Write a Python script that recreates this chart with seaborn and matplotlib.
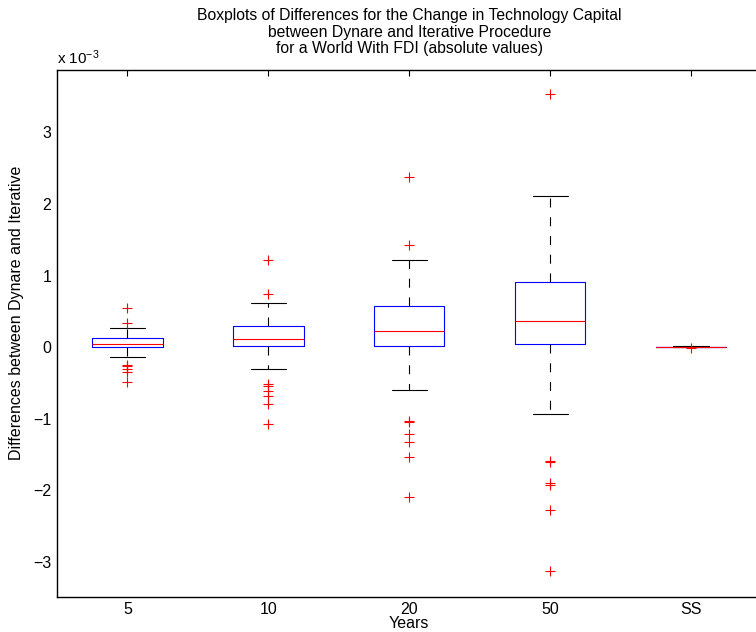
import numpy as np
import matplotlib
matplotlib.use("Agg")
import matplotlib.pyplot as plt
import seaborn as sns

# values, in units of 1e-3
groups = ["5", "10", "20", "50", "SS"]
q1 = [0.00, 0.01, 0.02, 0.04, 0.00]
med = [0.046, 0.11, 0.22, 0.36, 0.00]
q3 = [0.13, 0.29, 0.58, 0.91, 0.00]
whislo = [-0.14, -0.31, -0.60, -0.94, -0.005]
whishi = [0.27, 0.62, 1.21, 2.11, 0.01]
fliers = [
    [0.54, 0.33, -0.25, -0.27, -0.30, -0.35, -0.49],
    [1.21, 0.74, -0.52, -0.55, -0.62, -0.68, -0.80, -1.08],
    [2.37, 1.42, -1.03, -1.05, -1.21, -1.32, -1.54, -2.09],
    [3.54, -1.59, -1.61, -1.90, -1.92, -2.28, -3.13],
    [-0.015],
]

sns.set_style("white")
plt.rcParams["font.family"] = ["Liberation Sans", "DejaVu Sans"]
plt.rcParams["mathtext.default"] = "regular"
plt.rcParams["lines.scale_dashes"] = False
for k in ["text.color", "axes.labelcolor", "xtick.color", "ytick.color"]:
    plt.rcParams[k] = "black"

stats = []
for i, g in enumerate(groups):
    stats.append(dict(label=g, q1=q1[i], med=med[i], q3=q3[i],
                      whislo=whislo[i], whishi=whishi[i], fliers=fliers[i]))

fig = plt.figure(figsize=(7.56, 6.32), dpi=100)
ax = fig.add_axes([57 / 756, 35 / 632, 704.5 / 756, 527 / 632])
parts = ax.bxp(stats, positions=range(1, 6), widths=0.5, showfliers=True,
               boxprops=dict(color="blue", linewidth=0.8),
               medianprops=dict(color="red", linewidth=0.8),
               whiskerprops=dict(color="black", linewidth=0.8, linestyle=(0, (6.5, 7))),
               capprops=dict(color="black", linewidth=0.8),
               flierprops=dict(marker="+", markeredgecolor="red", markersize=7,
                               markeredgewidth=0.8, linestyle="none"))
for m in parts["medians"]:
    m.set_color("red")
    m.set_zorder(3)
for f in parts["fliers"]:
    f.set_markeredgecolor("red")
    f.set_zorder(4)

ax.set_xlim(0.5, 5.5)
ax.set_ylim(-3.49, 3.87)
ax.set_yticks([-3, -2, -1, 0, 1, 2, 3])
ax.set_yticklabels(["\u22123", "\u22122", "\u22121", "0", "1", "2", "3"])
ax.set_xticks(range(1, 6))
ax.set_xticklabels(groups)
ax.tick_params(direction="in", top=True, right=True, length=4, width=0.8,
               labelsize=11.5, pad=4)
ax.tick_params(axis="x", pad=3.5)
for s in ax.spines.values():
    s.set_linewidth(1.0)
    s.set_color("black")

ax.set_xlabel("Years", fontsize=11.5, labelpad=-0.5)
ax.set_ylabel("Differences between Dynare and Iterative", fontsize=11.5)
ax.yaxis.set_label_coords(-33 / 704.5, (597 - 313) / 527)
ax.set_title("Boxplots of Differences for the Change in Technology Capital\n"
             "between Dynare and Iterative Procedure\n"
             "for a World With FDI (absolute values)", fontsize=11.3,
             linespacing=1.12, pad=12)
fig.text(57 / 756, 1 - 58 / 632, "x 10$^{\u22123}$", fontsize=11, va="center")

fig.savefig("out.png", dpi=100)
